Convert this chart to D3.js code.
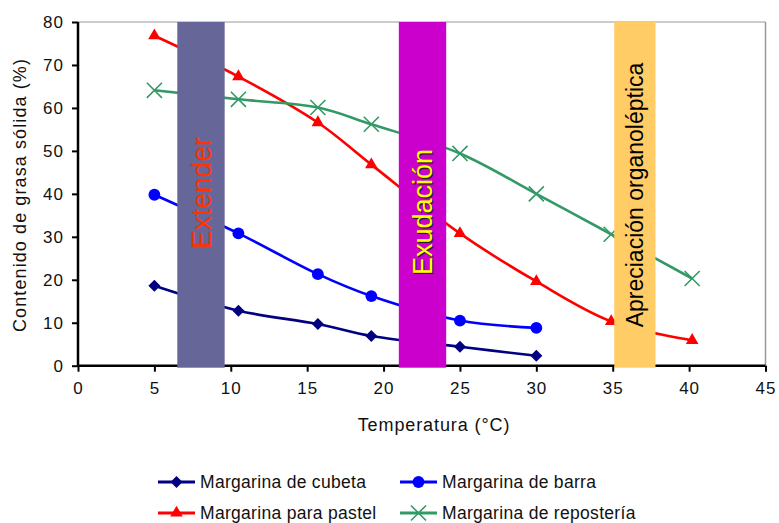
<!DOCTYPE html>
<html>
<head>
<meta charset="utf-8">
<script src="https://cdn.jsdelivr.net/npm/d3@7"></script>
<style>
  html, body { margin: 0; padding: 0; background: #fff; }
  svg { display: block; font-family: "Liberation Sans", Arial, sans-serif; }
</style>
</head>
<body>
<svg id="chart" width="779" height="523"></svg>
<script>
// Temperatures (°C) at which solid fat content was measured
const temps = [5, 10.5, 15.7, 19.2, 25, 30, 34.9, 40.2];

// Solid fat content (%) per margarine type
const cubeta     = [18.6, 12.8, 9.7, 6.9, 4.4, 2.3];
const barra      = [39.8, 30.8, 21.3, 16.2, 10.5, 8.8];
const pastel     = [76.8, 67.3, 56.6, 46.8, 30.8, 19.6, 10.3, 5.9];
const reposteria = [64.1, 62.0, 60.1, 56.2, 49.4, 40.0, 30.6, 20.3];

const seriesNames = ["Margarina de cubeta", "Margarina de barra",
                     "Margarina para pastel", "Margarina de repostería"];

// Temperature ranges relevant for each property
const bandNames = ["Extender", "Exudación", "Apreciación organoléptica"];
const bandStart = [6.5, 21.0, 35.1];
const bandEnd   = [9.6, 24.1, 37.8];

// Axis ticks
const xTicks = [0, 5, 10, 15, 20, 25, 30, 35, 40, 45];
const yTicks = [0, 10, 20, 30, 40, 50, 60, 70, 80];

const svg = d3.select("#chart");

const x = d3.scaleLinear().domain([0, 45]).range([78, 765.5]);
const y = d3.scaleLinear().domain([0, 80]).range([365.7, 22]);

// Marker styles; the diamond is a square turned 45°
const styles = [
  { color: "#000080", symbol: d3.symbolSquare,   size: 72,  kind: "fill",   rot: 45 },
  { color: "#0000FF", symbol: d3.symbolCircle,   size: 110, kind: "fill",   rot: 0 },
  { color: "#FF0000", symbol: d3.symbolTriangle, size: 68,  kind: "fill",   rot: 0 },
  { color: "#339966", symbol: d3.symbolX,        size: 150, kind: "stroke", rot: 0 }
];
const bandStyles = [
  { fill: "#666699", text: "#FF3300", size: 28, shadow: false },
  { fill: "#CC00CC", text: "#FFFF00", size: 27, shadow: true },
  { fill: "#FFCC66", text: "#000000", size: 23, shadow: false }
];

const allSeries = [cubeta, barra, pastel, reposteria];

// Plot frame: grey top/right, black axes left/bottom
svg.append("line").attr("x1", x(0)).attr("x2", x(45)).attr("y1", y(80)).attr("y2", y(80))
  .attr("stroke", "#999").attr("stroke-width", 1.2);
svg.append("line").attr("x1", x(45)).attr("x2", x(45)).attr("y1", y(80)).attr("y2", y(0))
  .attr("stroke", "#999").attr("stroke-width", 1.5);

// Axes
const xAxis = d3.axisBottom(x).tickValues(xTicks).tickSize(6).tickPadding(10);
const yAxis = d3.axisLeft(y).tickValues(yTicks).tickSize(6).tickPadding(8);

const gx = svg.append("g").attr("transform", `translate(0,${y(0)})`).call(xAxis);
const gy = svg.append("g").attr("transform", `translate(${x(0)},0)`).call(yAxis);
[gx, gy].forEach(g => {
  g.select(".domain").attr("stroke", "#000").attr("stroke-width", 2.5);
  g.selectAll(".tick line").attr("stroke", "#000").attr("stroke-width", 2);
  g.selectAll(".tick text").attr("fill", "#111")
    .style("font-size", "17px").style("letter-spacing", "1px")
    .style("font-family", "'Liberation Sans', Arial, sans-serif");
});
gx.select(".domain").attr("d", `M${x(0)},0H${x(45)}`);
gy.select(".domain").attr("d", `M0,${y(80)}V${y(0)}`);

// Series lines (smoothed) and markers
const line = d3.line()
  .x((d, i) => x(temps[i]))
  .y(d => y(d))
  .curve(d3.curveCatmullRom.alpha(0.5));

allSeries.forEach((vals, s) => {
  const st = styles[s];
  svg.append("path").datum(vals).attr("d", line)
    .attr("fill", "none").attr("stroke", st.color).attr("stroke-width", 2.6);
  const sym = d3.symbol().type(st.symbol).size(st.size);
  svg.append("g").selectAll("path").data(vals).join("path")
    .attr("transform", (d, i) => `translate(${x(temps[i])},${y(d)}) rotate(${st.rot})`)
    .attr("d", sym)
    .attr("fill", st.kind === "fill" ? st.color : "none")
    .attr("stroke", st.color)
    .attr("stroke-width", st.kind === "fill" ? 0 : 1.6);
});

// Temperature bands drawn over the curves
bandNames.forEach((name, b) => {
  const bs = bandStyles[b];
  svg.append("rect")
    .attr("x", x(bandStart[b])).attr("width", x(bandEnd[b]) - x(bandStart[b]))
    .attr("y", y(80)).attr("height", y(0) - y(80) + 2)
    .attr("fill", bs.fill);
});

const bandLabelY = [193, 212, 195];
bandNames.forEach((name, b) => {
  const bs = bandStyles[b];
  const cx = (x(bandStart[b]) + x(bandEnd[b])) / 2;
  const cy = bandLabelY[b];
  if (bs.shadow) {
    svg.append("text")
      .attr("transform", `translate(${cx + 1.3},${cy + 1.3}) rotate(-90)`)
      .attr("text-anchor", "middle").attr("dy", "0.35em")
      .style("font-size", bs.size + "px").attr("fill", "#222")
      .text(name);
  }
  svg.append("text")
    .attr("transform", `translate(${cx},${cy}) rotate(-90)`)
    .attr("text-anchor", "middle").attr("dy", "0.35em")
    .style("font-size", bs.size + "px").attr("fill", bs.text)
    .text(name);
});

// Axis titles
svg.append("text")
  .attr("transform", `translate(20,195) rotate(-90)`)
  .attr("text-anchor", "middle").attr("dy", "0.35em")
  .style("font-size", "18px").style("letter-spacing", "1.1px").attr("fill", "#111")
  .text("Contenido de grasa sólida (%)");
svg.append("text")
  .attr("x", 434).attr("y", 431)
  .attr("text-anchor", "middle")
  .style("font-size", "18px").style("letter-spacing", "0.9px").attr("fill", "#111")
  .text("Temperatura (°C)");

// Legend in two rows and two columns
const legendX = [158, 400];
const legendY = [482, 513];
seriesNames.forEach((name, s) => {
  const st = styles[s];
  const lx = legendX[s % 2], ly = legendY[Math.floor(s / 2)];
  const g = svg.append("g").attr("transform", `translate(${lx},${ly})`);
  g.append("line").attr("x1", 0).attr("x2", 37).attr("y1", 0).attr("y2", 0)
    .attr("stroke", st.color).attr("stroke-width", 3);
  g.append("path").attr("transform", `translate(18.5,0) rotate(${st.rot})`)
    .attr("d", d3.symbol().type(st.symbol).size(st.size)())
    .attr("fill", st.kind === "fill" ? st.color : "none")
    .attr("stroke", st.color)
    .attr("stroke-width", st.kind === "fill" ? 0 : 1.6);
  g.append("text").attr("x", 42).attr("y", 5.5)
    .style("font-size", "17.5px").style("letter-spacing", "0.3px").attr("fill", "#111")
    .text(name);
});
</script>
</body>
</html>
